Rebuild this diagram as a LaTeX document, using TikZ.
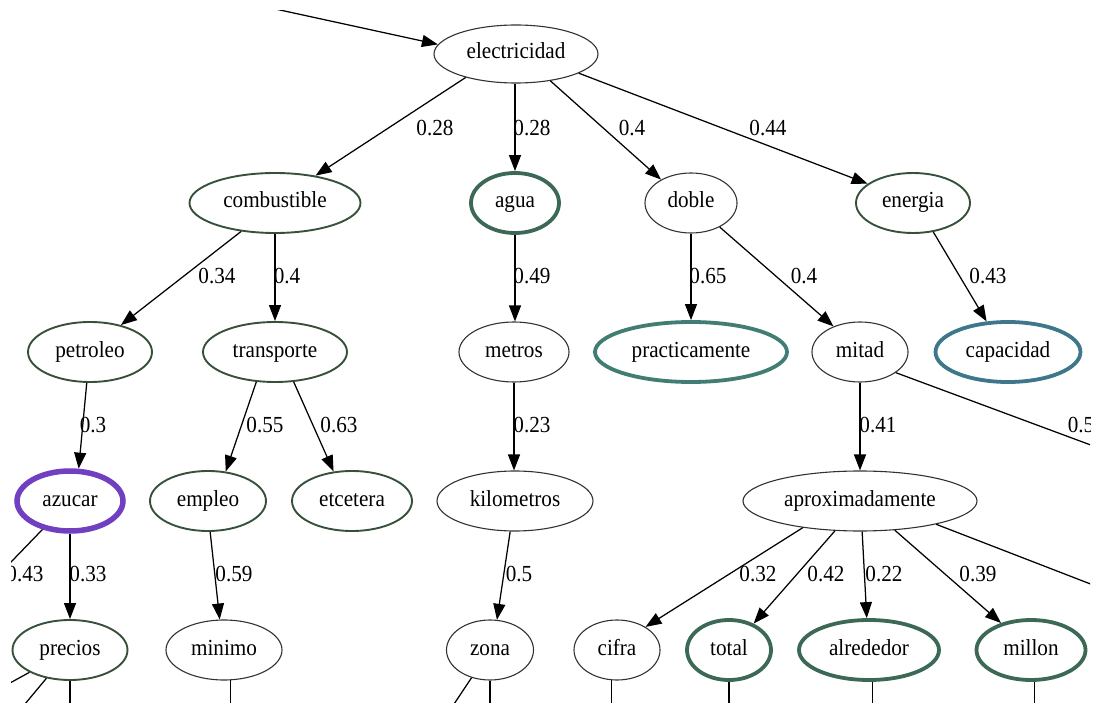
\documentclass[tikz,border=0pt]{standalone}
\usepackage{fontspec}
\setmainfont[FakeStretch=0.92]{Liberation Serif}
\usetikzlibrary{shapes.geometric,arrows.meta}
\definecolor{cthin}{RGB}{50,50,50}
\definecolor{cgreen}{RGB}{55,80,58}
\definecolor{cthick}{RGB}{60,105,85}
\definecolor{cteal}{RGB}{65,125,115}
\definecolor{cblue}{RGB}{62,118,138}
\definecolor{cpurple}{RGB}{112,64,192}
\tikzset{
  nd/.style={ellipse, draw=cthin, line width=1.1pt, inner sep=0pt, minimum height=60pt,
    text height=16pt, text depth=6pt, font=\fontsize{23}{27}\selectfont},
  ndg/.style={nd, draw=cgreen, line width=1.9pt},
  ndt/.style={nd, draw=cthick, line width=3.8pt},
  ndteal/.style={nd, draw=cteal, line width=3.8pt},
  ndblue/.style={nd, draw=cblue, line width=3.8pt},
  ndpurple/.style={nd, draw=cpurple, line width=5.5pt},
  lab/.style={font=\fontsize{23}{27}\selectfont, inner sep=0pt},
  edge/.style={line width=1.25pt, -{Triangle[length=16pt,width=12pt]}},
  stub/.style={line width=1.25pt},
}
\begin{document}
\begin{tikzpicture}[x=1pt,y=-1pt]
\useasboundingbox (0,0) rectangle (1098,703);
\begin{scope}
\clip (11,11) rectangle (1090,703);
% nodes
\node[nd, minimum width=164pt, minimum height=58pt] (elec) at (516,54) {electricidad};
\node[ndg, minimum width=171pt] (comb) at (275,203) {combustible};
\node[ndt, minimum width=88pt] (agua) at (515,203) {agua};
\node[nd, minimum width=92pt] (doble) at (691,203) {doble};
\node[ndg, minimum width=114pt] (energia) at (913,203) {energia};
\node[ndg, minimum width=124pt] (petroleo) at (90,352) {petroleo};
\node[ndg, minimum width=144pt] (transporte) at (275,352) {transporte};
\node[nd, minimum width=110pt] (metros) at (514,352) {metros};
\node[ndteal, minimum width=192pt] (practicamente) at (691,352) {practicamente};
\node[nd, minimum width=96pt] (mitad) at (860,352) {mitad};
\node[ndblue, minimum width=145pt] (capacidad) at (1008,352) {capacidad};
\node[ndpurple, minimum width=106pt] (azucar) at (70,501) {azucar};
\node[ndg, minimum width=116pt] (empleo) at (208,501) {empleo};
\node[ndg, minimum width=120pt] (etcetera) at (352,501) {etcetera};
\node[nd, minimum width=156pt] (kilometros) at (515,501) {kilometros};
\node[nd, minimum width=234pt] (aprox) at (860,501) {aproximadamente};
\node[ndg, minimum width=115pt] (precios) at (70,650) {precios};
\node[nd, minimum width=116pt] (minimo) at (224,650) {minimo};
\node[nd, minimum width=87pt] (zona) at (490,650) {zona};
\node[nd, minimum width=86pt] (cifra) at (617,650) {cifra};
\node[ndt, minimum width=84pt] (total) at (729,650) {total};
\node[ndt, minimum width=140pt] (alrededor) at (869,650) {alrededor};
\node[ndt, minimum width=109pt] (millon) at (1031,650) {millon};
% free ends
\coordinate (in0) at (234,0);
\coordinate (bot) at (0,760);
\coordinate (offmitad) at (1150,467);
\coordinate (offaprox) at (1150,607);
\coordinate (offazucar) at (-46,621);
\coordinate (offpA) at (-50,716);
\coordinate (offpB) at (-20,758);
\coordinate (offzona) at (418,758);
% edges
\draw[edge] (in0) -- (elec.173);
\draw[edge] (elec.-155) -- (comb.34);
\draw[edge] (elec.south -| agua.north) -- (agua.north);
\draw[edge] (elec.-38) -- (doble.142);
\draw[edge] (elec.-17) -- (energia.157);
\draw[edge] (comb.-140) -- (petroleo.41);
\draw[edge] (comb.south) -- (transporte.north);
\draw[edge] (agua.south) -- (metros.north -| agua.south);
\draw[edge] (doble.south) -- (practicamente.north -| doble.south);
\draw[edge] (doble.-40) -- (mitad.136);
\draw[edge] (energia.-55) -- (capacidad.125);
\draw[edge] (petroleo.-96) -- (azucar.75);
\draw[edge] (transporte.-122) -- (empleo.59);
\draw[edge] (transporte.-58) -- (etcetera.122);
\draw[edge] (metros.south) -- (kilometros.north -| metros.south);
\draw[edge] (mitad.south) -- (aprox.north);
\draw[stub] (mitad.-30) -- (offmitad);
\draw[stub] (azucar) -- (offazucar);
\draw[edge] (azucar.south) -- (precios.north);
\draw[edge] (empleo.-86) -- (minimo.98);
\draw[edge] (kilometros.-99) -- (zona.77);
\draw[edge] (aprox.-155) -- (cifra.39);
\draw[edge] (aprox.-130) -- (total.47);
\draw[edge] (aprox.-86) -- (alrededor.94);
\draw[edge] (aprox.-40) -- (millon.138);
\draw[stub] (aprox.-17) -- (offaprox);
% stubs leaving the bottom
\draw[stub] (precios) -- (offpA);
\draw[stub] (precios) -- (offpB);
\draw[stub] (precios.south) -- (precios.south |- bot);
\draw[stub] (minimo.-78) -- (minimo.-78 |- bot);
\draw[stub] (zona) -- (offzona);
\draw[stub] (zona.south) -- (zona.south |- bot);
\draw[stub] (cifra.-100) -- (cifra.-100 |- bot);
\draw[stub] (total.south) -- (total.south |- bot);
\draw[stub] (alrededor.-84) -- (alrededor.-84 |- bot);
\draw[stub] (millon.-84) -- (millon.-84 |- bot);
% edge labels
\node[lab] (l1) at (435,128) {0.28};
\node[lab] (l2) at (532,128) {0.28};
\node[lab] (l3) at (632,128) {0.4};
\node[lab] (l4) at (768,128) {0.44};
\node[lab] (l5) at (217,276) {0.34};
\node[lab] (l6) at (287,276) {0.4};
\node[lab] (l7) at (532,276) {0.49};
\node[lab] (l8) at (708,276) {0.65};
\node[lab] (l9) at (804,276) {0.4};
\node[lab] (l10) at (988,276) {0.43};
\node[lab] (l11) at (93,425) {0.3};
\node[lab] (l12) at (265,425) {0.55};
\node[lab] (l13) at (339,425) {0.63};
\node[lab] (l14) at (532,425) {0.23};
\node[lab] (l15) at (878,425) {0.41};
\node[lab] (l16) at (1081,425) {0.5};
\node[lab] (l17) at (25,574) {0.43};
\node[lab] (l18) at (88,574) {0.33};
\node[lab] (l19) at (234,574) {0.59};
\node[lab] (l20) at (519,574) {0.5};
\node[lab] (l21) at (758,574) {0.32};
\node[lab] (l22) at (826,574) {0.42};
\node[lab] (l23) at (884,574) {0.22};
\node[lab] (l24) at (978,574) {0.39};
\end{scope}
\end{tikzpicture}
\end{document}
